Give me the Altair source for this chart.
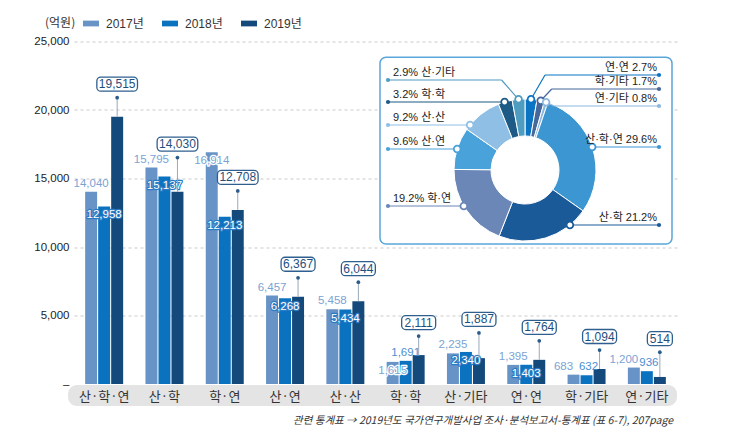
import altair as alt
import numpy as np
import pandas as pd

# ---------------- data ----------------
CATS = ["산·학·연", "산·학", "학·연", "산·연", "산·산", "학·학", "산·기타", "연·연", "학·기타", "연·기타"]
YEARS = ["2017년", "2018년", "2019년"]
V2017 = [14040, 15795, 16914, 6457, 5458, 1615, 2235, 1395, 683, 1200]
V2018 = [12958, 15137, 12213, 6268, 5434, 1691, 2340, 1403, 632, 936]
V2019 = [19515, 14030, 12708, 6367, 6044, 2111, 1887, 1764, 1094, 514]
Y_TICKS = [0, 5000, 10000, 15000, 20000, 25000]

# donut (2019 share), listed clockwise from 12 o'clock
PIE_CATS = ["연·연", "학·기타", "연·기타", "산·학·연", "산·학", "학·연", "산·연", "산·산", "학·학", "산·기타"]
PIE_PCT = [2.7, 1.7, 0.8, 29.6, 21.2, 19.2, 9.6, 9.2, 3.2, 2.9]

UNIT = "(억원)"
FOOTNOTE = "관련 통계표 → 2019년도 국가연구개발사업 조사·분석보고서-통계표 (표 6-7), 207page"

# ---------------- style / layout ----------------
FONT_NUM = "Liberation Sans Narrow, Liberation Sans, Noto Sans CJK KR, sans-serif"
FONT_KR = "Noto Sans CJK KR, sans-serif"
BAR_COLORS = ["#6893c6", "#0b72bf", "#144a7b"]
PIE_COLORS = ["#0b74c3", "#45679c", "#8cb8e0", "#3c96d2", "#1a5a98",
              "#6b87b7", "#4aa2da", "#90bfe5", "#1d5a86", "#4e9cc0"]
C17 = "#7aa3d5"
C18 = "#2a7bc4"
C18_TOP = "#4a8fd2"

# label placement exceptions (layout only)
LBL17_INSIDE = ["학·연", "학·학"]
LBL18_ABOVE = ["학·학", "학·기타", "연·기타"]

W, H = 603, 342.5
PAD = {"left": 74, "top": 41.5, "right": 62, "bottom": 49}
YMAX = 25000
UPP = YMAX / H  # data units per pixel

# donut geometry (plot-area pixels)
CX, CY, R_OUT, R_IN = 451, 128.5, 71, 34
PIE_SIDE = ["R", "R", "R", "R", "R", "L", "L", "L", "L", "L"]
PIE_ROW = [33.5, 47.5, 64.5, 105.5, 183.5, 164.5, 107.5, 83.5, 60.5, 38.5]
PIE_ELBOW = [14, 11, 8, None, None, None, None, None, None, -17]
DOT_X = {"L": 314, "R": 585}
TXT_X = {"L": 319, "R": 583}

# ---------------- tables ----------------
rows = []
for i, c in enumerate(CATS):
    for y, vals in zip(YEARS, [V2017, V2018, V2019]):
        rows.append({"cat": c, "year": y, "value": vals[i], "label": f"{vals[i]:,}"})
bars_df = pd.DataFrame(rows)


def box_path(s, h=14, r=4):
    nd = sum(ch.isdigit() for ch in s)
    w = max(25, 6.67 * nd + 3.3 * s.count(",") + 4)
    a, b = w / 2, h / 2
    return (f"M{-a + r},{-b}H{a - r}A{r},{r} 0 0 1 {a},{-b + r}V{b - r}"
            f"A{r},{r} 0 0 1 {a - r},{b}H{-a + r}A{r},{r} 0 0 1 {-a},{b - r}"
            f"V{-b + r}A{r},{r} 0 0 1 {-a + r},{-b}Z")


call_df = pd.DataFrame({"cat": CATS, "year": YEARS[2], "value": V2019, "v18": V2018})
call_df["anchor"] = np.maximum(call_df["value"], call_df["v18"]) + 19 * UPP
call_df["boxc"] = call_df["anchor"] + 13.5 * UPP
call_df["label"] = call_df["value"].map(lambda v: f"{v:,}")
call_df["path"] = call_df["label"].map(box_path)

pct = np.array(PIE_PCT)
tot = pct.sum()
a1 = np.cumsum(pct) / tot * 2 * np.pi
a0 = a1 - pct / tot * 2 * np.pi
mid = (a0 + a1) / 2
pie_rows, seg_rows = [], []
for i, c in enumerate(PIE_CATS):
    side, row, elb = PIE_SIDE[i], PIE_ROW[i], PIE_ELBOW[i]
    if elb is None:
        sgn = 1 if side == "R" else -1
        mx = CX + sgn * np.sqrt(R_OUT ** 2 - (row - CY) ** 2)
        my = row
        ex = mx
    else:
        mx = CX + R_OUT * np.sin(mid[i])
        my = CY - R_OUT * np.cos(mid[i])
        ex = mx + elb
    txt = f"{PIE_PCT[i]}% {c}" if side == "L" else f"{c} {PIE_PCT[i]}%"
    pie_rows.append({"cat": c, "pct": PIE_PCT[i], "ord": i, "side": side, "mx": mx, "my": my,
                     "dx": DOT_X[side], "row": row, "tx": TXT_X[side], "ty": row - 7, "txt": txt})
    seg_rows.append({"cat": c, "x1": DOT_X[side], "y1": row, "x2": ex, "y2": row})
    seg_rows.append({"cat": c, "x1": ex, "y1": row, "x2": mx, "y2": my})
pie_df = pd.DataFrame(pie_rows)
seg_df = pd.DataFrame(seg_rows)
one = pd.DataFrame({"k": [0]})

# ---------------- encodings ----------------
X = alt.X("cat:N", sort=CATS, title=None,
          scale=alt.Scale(domain=CATS, paddingInner=0.37, paddingOuter=0.185),
          axis=alt.Axis(title=None, domain=False, ticks=False, tickSize=0, labelAngle=0,
                        labelFont=FONT_KR, labelFontSize=13, labelColor="#333",
                        labelPadding=12, labelBaseline="middle", zindex=1, grid=False))
XO = alt.XOffset("year:N", scale=alt.Scale(domain=YEARS, paddingInner=0.08))
YAX = alt.Axis(values=Y_TICKS, title=None,
               labelExpr="datum.value == 0 ? '–' : format(datum.value, ',')",
               domain=False, ticks=False, grid=True, gridDash=[3, 3],
               gridColor={"condition": {"test": "datum.value === 0", "value": "transparent"},
                          "value": "#c9c9c9"},
               labelFont=FONT_NUM, labelFontSize=11.5, labelColor="#222", labelPadding=5)


def Yf(field):
    return alt.Y(field, title=None, scale=alt.Scale(domain=[0, YMAX]), axis=YAX)


LEG = alt.Legend(title=UNIT, orient="none", legendX=-29, legendY=-26, direction="horizontal",
                 titleOrient="left", titleFont=FONT_KR, titleFontSize=12, titleFontWeight="normal",
                 titleColor="#333", titlePadding=7, labelFont=FONT_NUM, labelFontSize=12,
                 labelColor="#333", symbolType="M-1,-0.36H1V0.36H-1Z", symbolSize=256,
                 symbolStrokeWidth=0, labelOffset=7, columnPadding=18)

band = alt.Chart(one).mark_rect(color="#e4e4e4", cornerRadius=9).encode(
    x=alt.value(-6), x2=alt.value(W), y=alt.value(H + 1), y2=alt.value(H + 22))

bars = alt.Chart(bars_df).mark_bar().encode(
    x=X, xOffset=XO, y=Yf("value:Q"),
    color=alt.Color("year:N", scale=alt.Scale(domain=YEARS, range=BAR_COLORS), legend=LEG))


def txt_layers(df, color, dy, dx=0, halo=None, size=11.5):
    out = []
    if len(df) == 0:
        return out
    if halo is not None:
        out.append(alt.Chart(df).mark_text(font=FONT_NUM, fontSize=size, fill=halo, stroke=halo,
                                           strokeWidth=2.4, strokeJoin="round",
                                           baseline="middle", dy=dy, dx=dx).encode(
            x=X, xOffset=XO, y=Yf("value:Q"), text="label:N"))
    out.append(alt.Chart(df).mark_text(font=FONT_NUM, fontSize=size, color=color,
                                       baseline="middle", dy=dy, dx=dx).encode(
        x=X, xOffset=XO, y=Yf("value:Q"), text="label:N"))
    return out


d17 = bars_df[bars_df["year"] == YEARS[0]]
d18 = bars_df[bars_df["year"] == YEARS[1]]
in17 = d17["cat"].isin(LBL17_INSIDE)
shift17 = d17["cat"].isin(LBL18_ABOVE) & ~in17
up18 = d18["cat"].isin(LBL18_ABOVE)
shift18 = up18 & ~d18["cat"].isin(LBL17_INSIDE)

labels = []
labels += txt_layers(d17[~in17 & ~shift17], C17, -8)
labels += txt_layers(d17[shift17], C17, -8, dx=-10)
labels += txt_layers(d17[in17], C17, 9, halo="white")
labels += txt_layers(d18[~up18], "white", 9, halo=C18)
labels += txt_layers(d18[up18 & ~shift18], C18_TOP, -8)
labels += txt_layers(d18[shift18], C18_TOP, -8, dx=2)

stems = alt.Chart(call_df).mark_rule(color="#9aa8b8", strokeWidth=1).encode(
    x=X, xOffset=XO, y=Yf("value:Q"), y2="anchor:Q")
cdots = alt.Chart(call_df).mark_circle(size=14, color="#2b5b8a", opacity=1).encode(
    x=X, xOffset=XO, y=Yf("anchor:Q"))
boxes = alt.Chart(call_df).mark_point(filled=True, fill="white", stroke="#2f5f8e", strokeWidth=1.3,
                                      size=4, opacity=1).encode(
    x=X, xOffset=XO, y=Yf("boxc:Q"), shape=alt.Shape("path:N", scale=None))
boxtxt = alt.Chart(call_df).mark_text(font=FONT_NUM, fontSize=12, color="#1f4f7d",
                                      baseline="middle").encode(
    x=X, xOffset=XO, y=Yf("boxc:Q"), text="label:N")

bars_group = alt.layer(band, bars, *labels, stems, cdots, boxes, boxtxt)

# ---------------- donut ----------------
PSC = alt.Scale(domain=PIE_CATS, range=PIE_COLORS)
PC = alt.Color("cat:N", scale=PSC, legend=None)


def px(f):
    return alt.X(f, scale=None, axis=None)


def py(f):
    return alt.Y(f, scale=None, axis=None)


pbox = alt.Chart(one).mark_rect(fill="white", stroke="#5aa6da", strokeWidth=1.5, cornerRadius=6).encode(
    x=alt.value(306), x2=alt.value(598), y=alt.value(15.8), y2=alt.value(202.5))
arcs = alt.Chart(pie_df).mark_arc(radius=R_OUT, innerRadius=R_IN, stroke="white", strokeWidth=1).encode(
    theta=alt.Theta("pct:Q", stack=True), order=alt.Order("ord:Q"), color=PC,
    x=alt.value(CX), y=alt.value(CY))
lines = alt.Chart(seg_df).mark_rule(strokeWidth=1.2).encode(
    x=px("x1:Q"), y=py("y1:Q"), x2="x2:Q", y2="y2:Q", color=PC)
markers = alt.Chart(pie_df).mark_point(filled=True, fill="white", strokeWidth=1.8, size=45,
                                       opacity=1, shape="circle").encode(
    x=px("mx:Q"), y=py("my:Q"), stroke=alt.Stroke("cat:N", scale=PSC, legend=None))
sdots = alt.Chart(pie_df).mark_circle(size=18, opacity=1).encode(
    x=px("dx:Q"), y=py("row:Q"), color=PC)
ltxt = alt.Chart(pie_df[pie_df["side"] == "L"]).mark_text(
    font=FONT_NUM, fontSize=11, color="#222", baseline="middle", align="left").encode(
    x=px("tx:Q"), y=py("ty:Q"), text="txt:N")
rtxt = alt.Chart(pie_df[pie_df["side"] == "R"]).mark_text(
    font=FONT_NUM, fontSize=11, color="#222", baseline="middle", align="right").encode(
    x=px("tx:Q"), y=py("ty:Q"), text="txt:N")
donut_group = alt.layer(pbox, arcs, lines, markers, sdots, ltxt, rtxt)

foot = alt.Chart(one).mark_text(font=FONT_KR, fontSize=10.5, fontStyle="italic", color="#333",
                                align="right", baseline="middle").encode(
    x=alt.value(599), y=alt.value(379.5), text=alt.value(FOOTNOTE))

chart = alt.layer(bars_group, donut_group, foot).resolve_scale(
    x="independent", y="independent", color="independent"
).properties(width=W, height=H, padding=PAD, autosize="none", background="white"
).configure_view(stroke=None)

chart.save("out.html", embed_options={"renderer": "svg", "actions": False})
